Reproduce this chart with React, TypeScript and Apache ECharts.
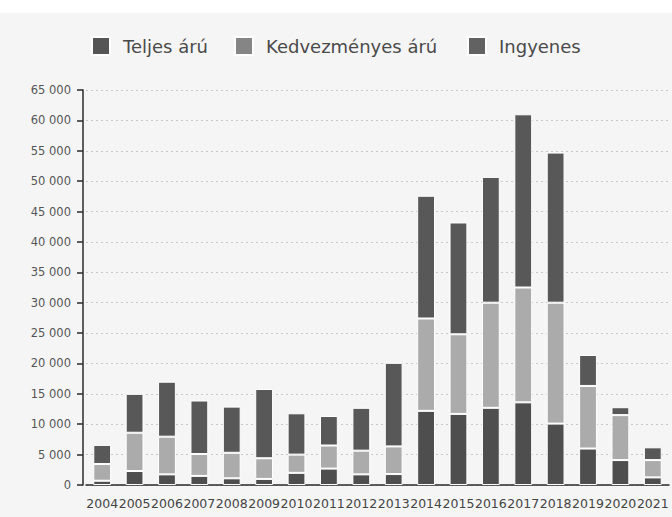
import React, { useEffect, useRef } from "react";
import * as echarts from "echarts";

const years = [
  "2004", "2005", "2006", "2007", "2008", "2009", "2010", "2011", "2012",
  "2013", "2014", "2015", "2016", "2017", "2018", "2019", "2020", "2021",
];
// Stack order bottom -> top: Ingyenes, Kedvezményes árú, Teljes árú
const ingyenes = [700, 2300, 1750, 1500, 1100, 1000, 2000, 2700, 1750, 1800, 12200, 11700, 12700, 13600, 10100, 6000, 4100, 1250];
const kedvezmenyes = [2750, 6300, 6200, 3600, 4200, 3400, 3000, 3800, 3900, 4550, 15200, 13100, 17300, 18900, 19900, 10300, 7400, 2850];
const teljes = [3150, 6400, 9050, 8800, 7600, 11400, 6800, 4850, 7050, 13750, 20200, 18400, 20700, 28500, 24700, 5100, 1300, 2100];

const seriesNames = ["Teljes árú", "Kedvezményes árú", "Ingyenes"];
const legendColors = ["#555555", "#858585", "#626262"];

export default function App() {
  const ref = useRef<HTMLDivElement>(null);
  useEffect(() => {
    document.body.style.margin = "0";
    const chart = echarts.init(ref.current!, null, { renderer: "svg" });
    const fmt = (v: number) => String(v).replace(/\B(?=(\d{3})+(?!\d))/g, " ");
    const barBase = {
      type: "bar",
      stack: "total",
      barWidth: "55%",
      itemStyle: { borderColor: "#ffffff", borderWidth: 1 },
    };
    const legendLefts = [91, 234, 467];
    const legends = seriesNames.map((name, i) => ({
      top: 36,
      left: legendLefts[i],
      padding: 0,
      itemWidth: 18,
      itemHeight: 18,
      icon: "rect",
      data: [{ name, itemStyle: { color: legendColors[i] } }],
      textStyle: {
        fontFamily: "DejaVu Sans",
        fontSize: 18,
        color: "#4a4a4a",
        padding: [0, 0, 0, 8],
      },
    }));
    chart.setOption({
      animation: false,
      backgroundColor: "#ffffff",
      graphic: [
        {
          type: "rect",
          z: -10,
          silent: true,
          shape: { x: 0, y: 13, width: 672, height: 504 },
          style: { fill: "#f5f5f5" },
        },
      ],
      legend: legends,
      grid: { left: 86, right: 3, top: 90, bottom: 32 },
      xAxis: {
        type: "category",
        data: years,
        axisLine: { lineStyle: { color: "#2a2a2a", width: 1.5 } },
        axisTick: { alignWithLabel: true, length: 6, lineStyle: { color: "#2a2a2a", width: 1.5 } },
        axisLabel: {
          interval: 0,
          margin: 12,
          fontFamily: "DejaVu Sans",
          fontSize: 12.5,
          color: "#444444",
        },
      },
      yAxis: {
        type: "value",
        min: 0,
        max: 65000,
        interval: 5000,
        offset: 3,
        axisLine: { show: true, lineStyle: { color: "#2a2a2a", width: 1.5 } },
        axisTick: { show: true, length: 6, lineStyle: { color: "#2a2a2a", width: 1.5 } },
        axisLabel: {
          margin: 12,
          fontFamily: "DejaVu Sans",
          fontSize: 11.5,
          color: "#555555",
          formatter: fmt,
        },
        splitLine: { lineStyle: { color: "#c8c8c8", type: [2, 3], width: 1 } },
      },
      series: [
        { ...barBase, name: seriesNames[2], data: ingyenes, itemStyle: { ...barBase.itemStyle, color: "#4e4e4e" } },
        { ...barBase, name: seriesNames[1], data: kedvezmenyes, itemStyle: { ...barBase.itemStyle, color: "#ababab" } },
        { ...barBase, name: seriesNames[0], data: teljes, itemStyle: { ...barBase.itemStyle, color: "#585858" } },
      ],
    });
    return () => chart.dispose();
  }, []);
  return <div ref={ref} style={{ width: 672, height: 517 }} />;
}
